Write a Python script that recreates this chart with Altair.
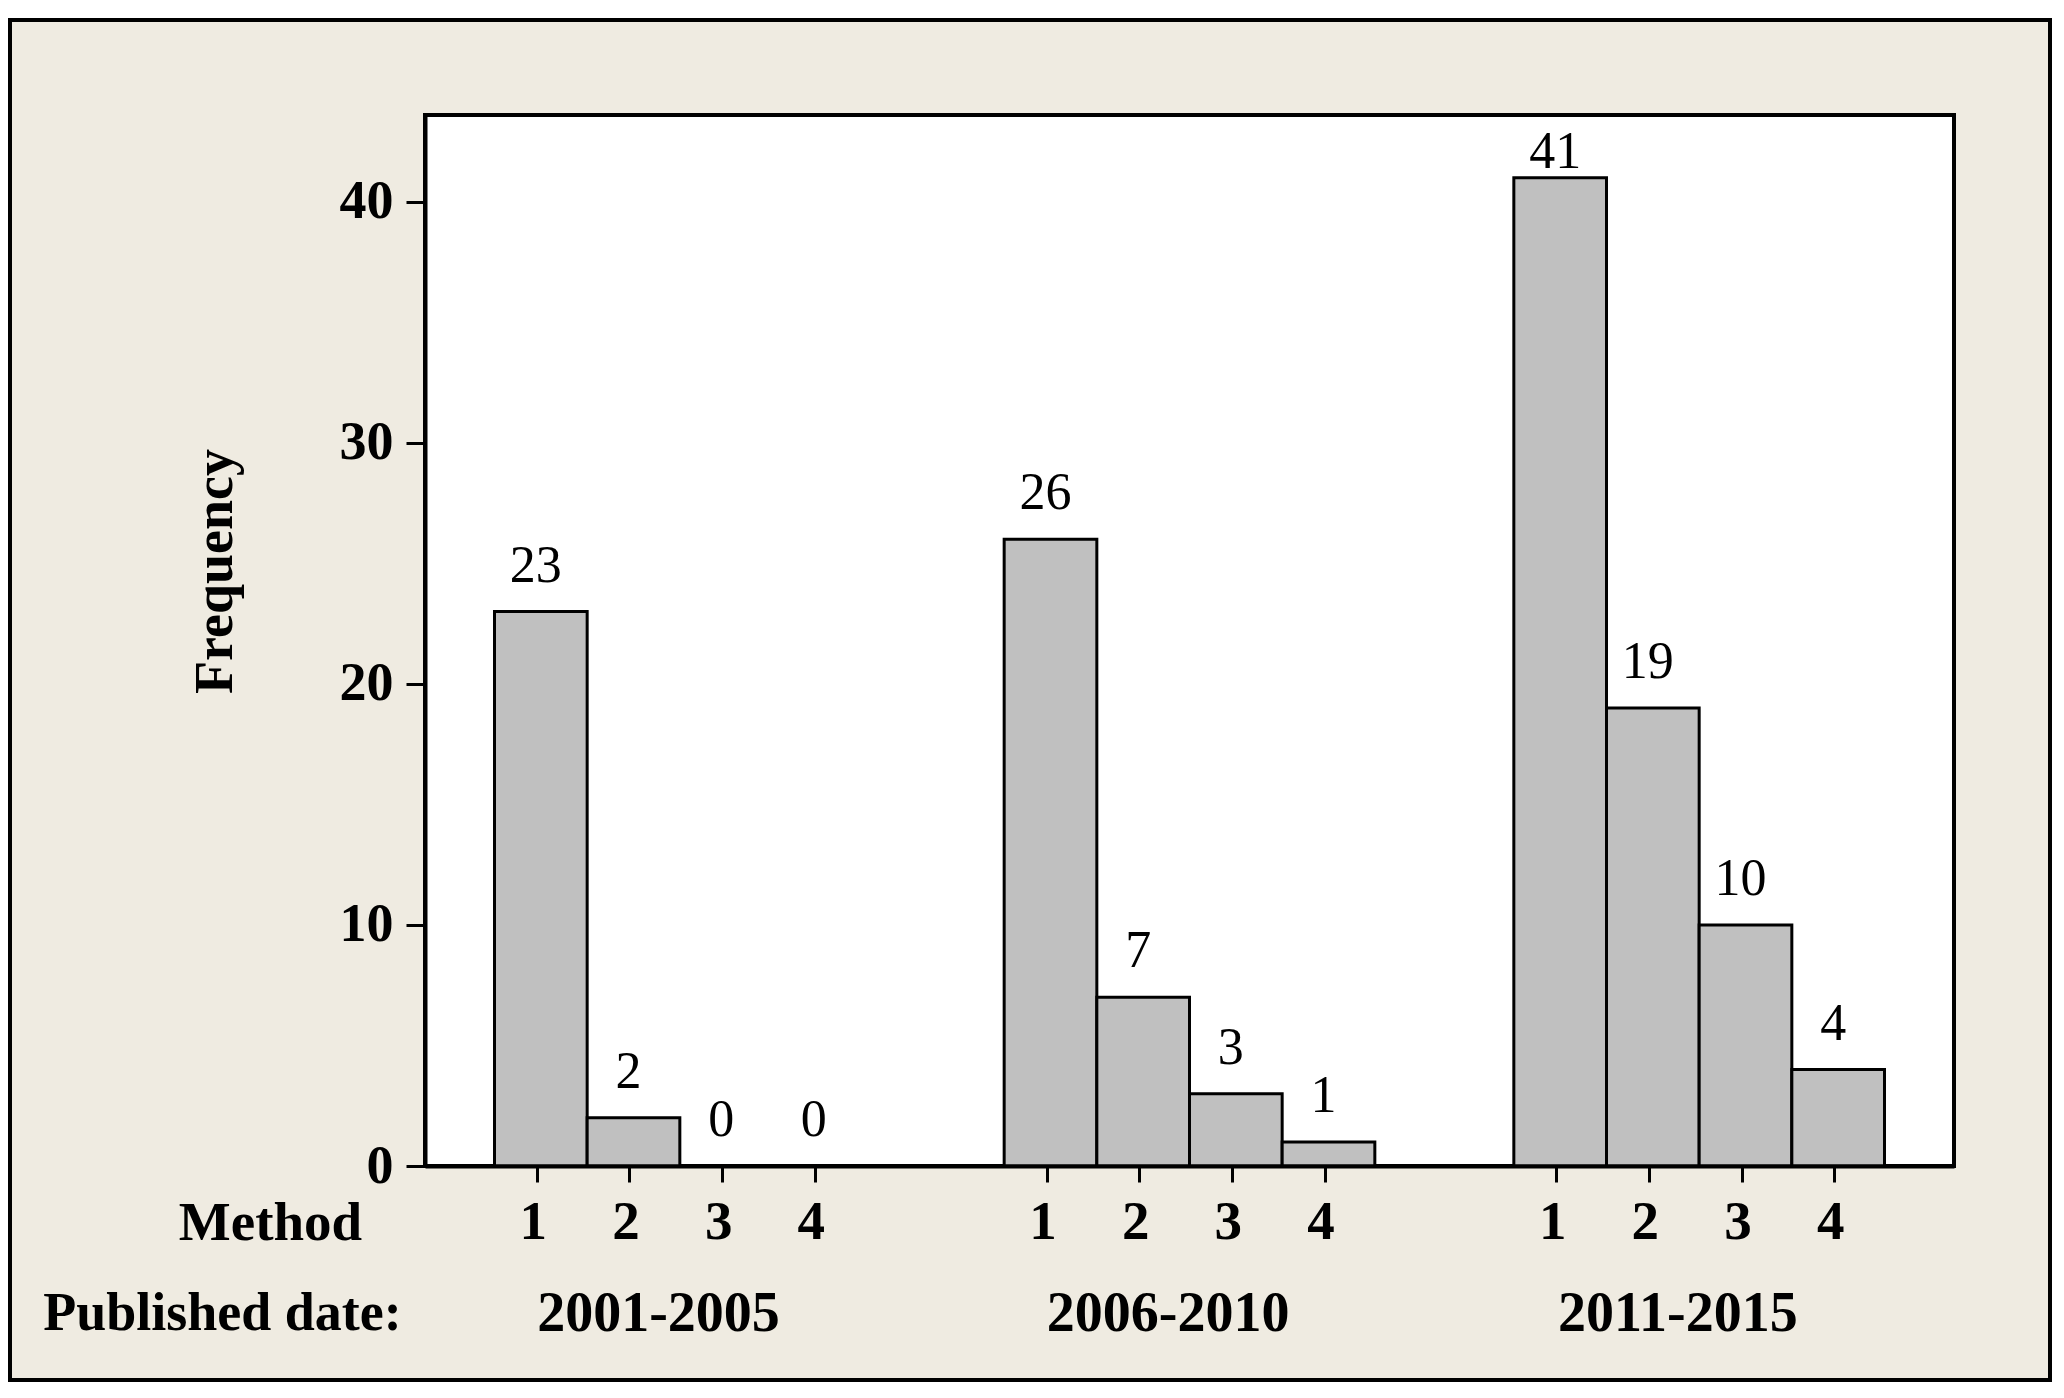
import json
import altair as alt
import pandas as pd

# ---- data ----
periods = ["2001-2005", "2006-2010", "2011-2015"]
methods = [1, 2, 3, 4]
freq_2001_2005 = [23, 2, 0, 0]
freq_2006_2010 = [26, 7, 3, 1]
freq_2011_2015 = [41, 19, 10, 4]
y_ticks = [0, 10, 20, 30, 40]

# ---- layout constants ----
W, H = 1529, 1051
GROUP_STEP = 5.5          # slots between groups (4 bars + 1.5 gap)
X_DOMAIN = [-1.25, 15.25]
Y_DOMAIN = [0, 43.6]
LABEL_CAP = 40.15         # value labels kept inside the plot area
FONT = "Liberation Serif"
BG = "#EFEBE1"

series = [freq_2001_2005, freq_2006_2010, freq_2011_2015]
rows = []
for g, (period, vals) in enumerate(zip(periods, series)):
    for m, v in zip(methods, vals):
        pos = g * GROUP_STEP + (m - 1)
        rows.append(dict(period=period, method=m, freq=v, pos=pos,
                         lo=pos - 0.5, hi=pos + 0.5, base=0))
df = pd.DataFrame(rows)

pos_list = [float(r["pos"]) for r in rows]
lab_list = [str(r["method"]) for r in rows]
label_expr = f"{json.dumps(lab_list)}[indexof({json.dumps(pos_list)}, datum.value)]"

grp = pd.DataFrame({
    "period": periods,
    "x": [g * GROUP_STEP + 1.5 - 0.23 for g in range(len(periods))],
    "y": [-6.14] * len(periods),
})
pub = pd.DataFrame({"txt": ["Published date:"], "x": [-5.37], "y": [-6.14]})

xs = alt.Scale(domain=X_DOMAIN, nice=False, zero=False)
ys = alt.Scale(domain=Y_DOMAIN, nice=False, zero=False)

x_axis = alt.Axis(
    values=pos_list, labelExpr=label_expr, title="Method",
    titleX=-155, titleY=56, titleAlign="center", titleBaseline="middle",
    titleFont=FONT, titleFontSize=55, titleFontWeight="bold", titleColor="black",
    labelFont=FONT, labelFontSize=55, labelFontWeight="bold", labelColor="black",
    labelBaseline="middle", labelAlign="center", labelPadding=39,
    labelOverlap=False, labelFlush=False,
    tickOffset=-4, labelOffset=-4,
    tickSize=16, tickWidth=3, tickColor="black",
    domainColor="black", domainWidth=4, grid=False, zindex=1,
)
y_axis = alt.Axis(
    values=y_ticks, title="Frequency",
    titleX=-210, titleY=456, titleAngle=270, titleAlign="center", titleBaseline="middle",
    titleFont=FONT, titleFontSize=54, titleFontWeight="bold", titleColor="black",
    labelFont=FONT, labelFontSize=54, labelFontWeight="bold", labelColor="black",
    labelAlign="right", labelBaseline="middle", labelPadding=13,
    tickSize=19, tickWidth=3, tickColor="black",
    domainColor="black", domainWidth=4, grid=False, zindex=1,
)


def X(field):
    return alt.X(field, scale=xs, axis=x_axis)


def Y(field):
    return alt.Y(field, scale=ys, axis=y_axis)


one = alt.Data(values=[{"k": 1}])

frame = alt.Chart(one).mark_rect(fill=BG, stroke="black", strokeWidth=4).encode(
    x=alt.value(-415), x2=alt.value(1625), y=alt.value(-95), y2=alt.value(1265)
)
plot_bg = alt.Chart(one).mark_rect(fill="white", stroke="black", strokeWidth=4).encode(
    x=alt.value(0), x2=alt.value(W), y=alt.value(0), y2=alt.value(H)
)

bars = alt.Chart(df).mark_rect(fill="#C0C0C0", stroke="black", strokeWidth=3).encode(
    x=X("lo:Q"),
    x2="hi:Q",
    y=Y("freq:Q"),
    y2="base:Q",
)

values = alt.Chart(df).transform_calculate(
    ly=f"min(datum.freq, {LABEL_CAP})"
).mark_text(font=FONT, fontSize=52, color="black", baseline="alphabetic",
            align="center", dy=-30, dx=-5).encode(
    x=X("pos:Q"),
    y=Y("ly:Q"),
    text="freq:Q",
)

group_labels = alt.Chart(grp).mark_text(
    font=FONT, fontSize=56, fontWeight="bold", color="black",
    baseline="middle", align="center").encode(
    x=X("x:Q"),
    y=Y("y:Q"),
    text="period:N",
)

pub_label = alt.Chart(pub).mark_text(
    font=FONT, fontSize=54, fontWeight="bold", color="black",
    baseline="middle", align="left").encode(
    x=X("x:Q"),
    y=Y("y:Q"),
    text="txt:N",
)

chart = alt.layer(frame, plot_bg, bars, values, group_labels, pub_label).properties(
    width=W, height=H,
    padding={"left": 0, "top": 10, "right": 0, "bottom": 0},
    background="white",
).configure_view(strokeWidth=0)

chart.save("out.html", embed_options={"renderer": "svg", "actions": False})
